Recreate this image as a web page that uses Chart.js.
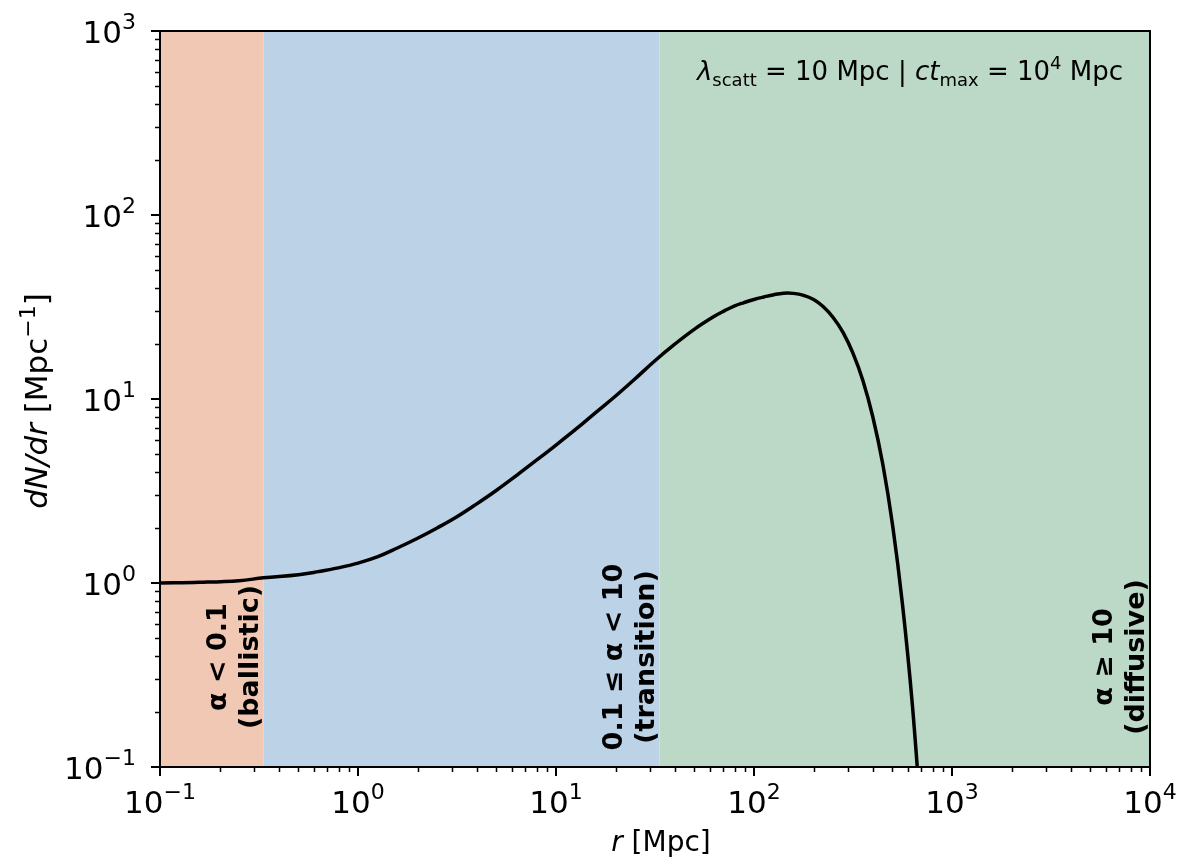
<!DOCTYPE html>
<html>
<head>
<meta charset="utf-8">
<script src="https://cdn.jsdelivr.net/npm/chart.js@4.4.1/dist/chart.umd.min.js"></script>
<style>
  html, body { margin: 0; padding: 0; background: #ffffff; }
  canvas { display: block; }
</style>
</head>
<body>
<canvas id="chart" width="1178" height="861"></canvas>
<script>
// Radial distribution of particles, r in Mpc
const radius = [0.1, 0.158, 0.251, 0.333, 0.501, 0.631, 0.794, 1.0, 1.26, 1.58, 2.0, 2.51, 3.16, 3.98, 5.01, 6.31, 7.94, 10.0, 12.6, 15.8, 20.0, 25.1, 31.6, 39.8, 50.1, 63.1, 70.8, 79.4, 89.1, 100, 112, 126, 141, 158, 178, 200, 224, 251, 282, 316, 355, 398, 447, 501, 562, 631, 708];
const dNdr   = [1.000, 1.009, 1.030, 1.067, 1.109, 1.153, 1.208, 1.282, 1.390, 1.549, 1.750, 1.991, 2.291, 2.692, 3.192, 3.837, 4.634, 5.623, 6.855, 8.414, 10.38, 12.88, 16.14, 19.86, 23.99, 28.18, 30.13, 31.99, 33.42, 34.75, 35.85, 36.90, 37.58, 37.50, 36.59, 34.69, 31.72, 27.74, 22.97, 17.75, 12.58, 8.008, 4.436, 2.068, 0.769, 0.2165, 0.0419];

// Propagation regimes (edges in Mpc)
const regionEdges  = [0.1, 1 / 3, 100 / 3, 1e4];
const regionColors = ['rgb(241,200,180)', 'rgb(188,210,230)', 'rgb(188,217,199)'];
const regionLabels = [
  ['α < 0.1', '(ballistic)'],
  ['0.1 ≤ α < 10', '(transition)'],
  ['α ≥ 10', '(diffusive)']
];

// Decade exponents for the axes
const xTickExps = [-1, 0, 1, 2, 3, 4];
const yTickExps = [-1, 0, 1, 2, 3];

const FONT = "'DejaVu Sans'";

function seg(t, size, opts) {
  return Object.assign({ t: t, size: size, italic: false, bold: false, dy: 0 }, opts || {});
}
function segFont(s) {
  return (s.italic ? 'italic ' : '') + (s.bold ? 'bold ' : '') + s.size + 'px ' + FONT;
}
function richWidth(ctx, segs) {
  let w = 0;
  segs.forEach(s => { ctx.font = segFont(s); w += ctx.measureText(s.t).width; });
  return w;
}
// Draws segments on a common baseline; align: 'left' | 'center' | 'right'
function drawRich(ctx, segs, x, y, align) {
  const w = richWidth(ctx, segs);
  let cx = align === 'center' ? x - w / 2 : align === 'right' ? x - w : x;
  ctx.textAlign = 'left';
  ctx.textBaseline = 'alphabetic';
  segs.forEach(s => {
    ctx.font = segFont(s);
    ctx.fillText(s.t, cx, y + s.dy);
    cx += ctx.measureText(s.t).width;
  });
}
function powSegs(exp, size) {
  const e = exp < 0 ? '\u2212' + Math.abs(exp) : String(exp);
  return [seg('10', size), seg(e, Math.round(size * 0.7), { dy: -Math.round(size * 0.45) })];
}

const decorPlugin = {
  id: 'decor',
  beforeDatasetsDraw(chart) {
    const { ctx, chartArea: a, scales: { x } } = chart;
    ctx.save();
    for (let i = 0; i < regionColors.length; i++) {
      const x0 = x.getPixelForValue(regionEdges[i]);
      const x1 = x.getPixelForValue(regionEdges[i + 1]);
      ctx.fillStyle = regionColors[i];
      ctx.fillRect(x0, a.top, x1 - x0, a.bottom - a.top);
    }
    ctx.restore();
  },
  afterDatasetsDraw(chart) {
    const { ctx, chartArea: a, scales: { x } } = chart;
    ctx.save();
    ctx.fillStyle = '#000';
    // Regime labels, rotated, anchored to the right edge of each band
    const cy = 657;
    for (let i = 0; i < regionLabels.length; i++) {
      const xr = x.getPixelForValue(regionEdges[i + 1]);
      const lines = regionLabels[i];
      ctx.save();
      ctx.translate(xr - 29, cy);
      ctx.rotate(-Math.PI / 2);
      ctx.font = 'bold 27px ' + FONT;
      ctx.textAlign = 'center';
      ctx.textBaseline = 'middle';
      ctx.fillText(lines[0], 0, -16);
      ctx.fillText(lines[1], 0, 16);
      ctx.restore();
    }
    // Parameter annotation
    const big = 26, small = 18;
    drawRich(ctx, [
      seg('λ', big, { italic: true }),
      seg('scatt', small, { dy: 6 }),
      seg(' = 10 Mpc | ', big),
      seg('ct', big, { italic: true }),
      seg('max', small, { dy: 6 }),
      seg(' = 10', big),
      seg('4', small, { dy: -11 }),
      seg(' Mpc', big)
    ], a.right - 27, 80, 'right');
    ctx.restore();
  },
  afterDraw(chart) {
    const { ctx, chartArea: a, scales: { x, y } } = chart;
    ctx.save();
    ctx.strokeStyle = '#000';
    ctx.fillStyle = '#000';

    // Minor and major ticks
    const majorLen = 9, minorLen = 5;
    ctx.lineWidth = 1.5;
    ctx.beginPath();
    for (let k = xTickExps[0]; k < xTickExps[xTickExps.length - 1]; k++) {
      for (let m = 2; m <= 9; m++) {
        const px = Math.round(x.getPixelForValue(m * Math.pow(10, k))) + 0.5;
        ctx.moveTo(px, a.bottom); ctx.lineTo(px, a.bottom + minorLen);
      }
    }
    for (let k = yTickExps[0]; k < yTickExps[yTickExps.length - 1]; k++) {
      for (let m = 2; m <= 9; m++) {
        const py = Math.round(y.getPixelForValue(m * Math.pow(10, k))) + 0.5;
        ctx.moveTo(a.left, py); ctx.lineTo(a.left - minorLen, py);
      }
    }
    ctx.stroke();

    ctx.lineWidth = 2;
    ctx.beginPath();
    xTickExps.forEach(k => {
      const px = Math.round(x.getPixelForValue(Math.pow(10, k)));
      ctx.moveTo(px, a.bottom); ctx.lineTo(px, a.bottom + majorLen);
    });
    yTickExps.forEach(k => {
      const py = Math.round(y.getPixelForValue(Math.pow(10, k)));
      ctx.moveTo(a.left, py); ctx.lineTo(a.left - majorLen, py);
    });
    ctx.stroke();

    // Frame
    ctx.lineWidth = 2;
    ctx.strokeRect(a.left, a.top, a.right - a.left, a.bottom - a.top);

    // Tick labels
    const tsize = 31;
    xTickExps.forEach(k => {
      const px = x.getPixelForValue(Math.pow(10, k));
      drawRich(ctx, powSegs(k, tsize), px, a.bottom + 46, 'center');
    });
    yTickExps.forEach(k => {
      const py = y.getPixelForValue(Math.pow(10, k));
      drawRich(ctx, powSegs(k, tsize), a.left - 24, py + 12, 'right');
    });

    // Axis titles
    drawRich(ctx, [seg('r', 28, { italic: true }), seg(' [Mpc]', 28)], (a.left + a.right) / 2 + 6, 851, 'center');
    ctx.save();
    ctx.translate(47, (a.top + a.bottom) / 2 + 2);
    ctx.rotate(-Math.PI / 2);
    drawRich(ctx, [
      seg('dN/dr', 31, { italic: true }),
      seg(' [Mpc', 31),
      seg('\u22121', 22, { dy: -12 }),
      seg(']', 31)
    ], 0, 0, 'center');
    ctx.restore();

    ctx.restore();
  }
};

new Chart(document.getElementById('chart'), {
  type: 'scatter',
  data: {
    datasets: [{
      data: radius.map((r, i) => ({ x: r, y: dNdr[i] })),
      showLine: true,
      borderColor: '#000000',
      borderWidth: 3.5,
      pointRadius: 0,
      tension: 0.4,
      fill: false
    }]
  },
  options: {
    responsive: false,
    animation: false,
    devicePixelRatio: 1,
    layout: { padding: { left: 160, right: 28, top: 31, bottom: 94 } },
    plugins: { legend: { display: false }, tooltip: { enabled: false } },
    scales: {
      x: { type: 'logarithmic', min: 0.1, max: 1e4, display: false },
      y: { type: 'logarithmic', min: 0.1, max: 1e3, display: false }
    }
  },
  plugins: [decorPlugin]
});
</script>
</body>
</html>
